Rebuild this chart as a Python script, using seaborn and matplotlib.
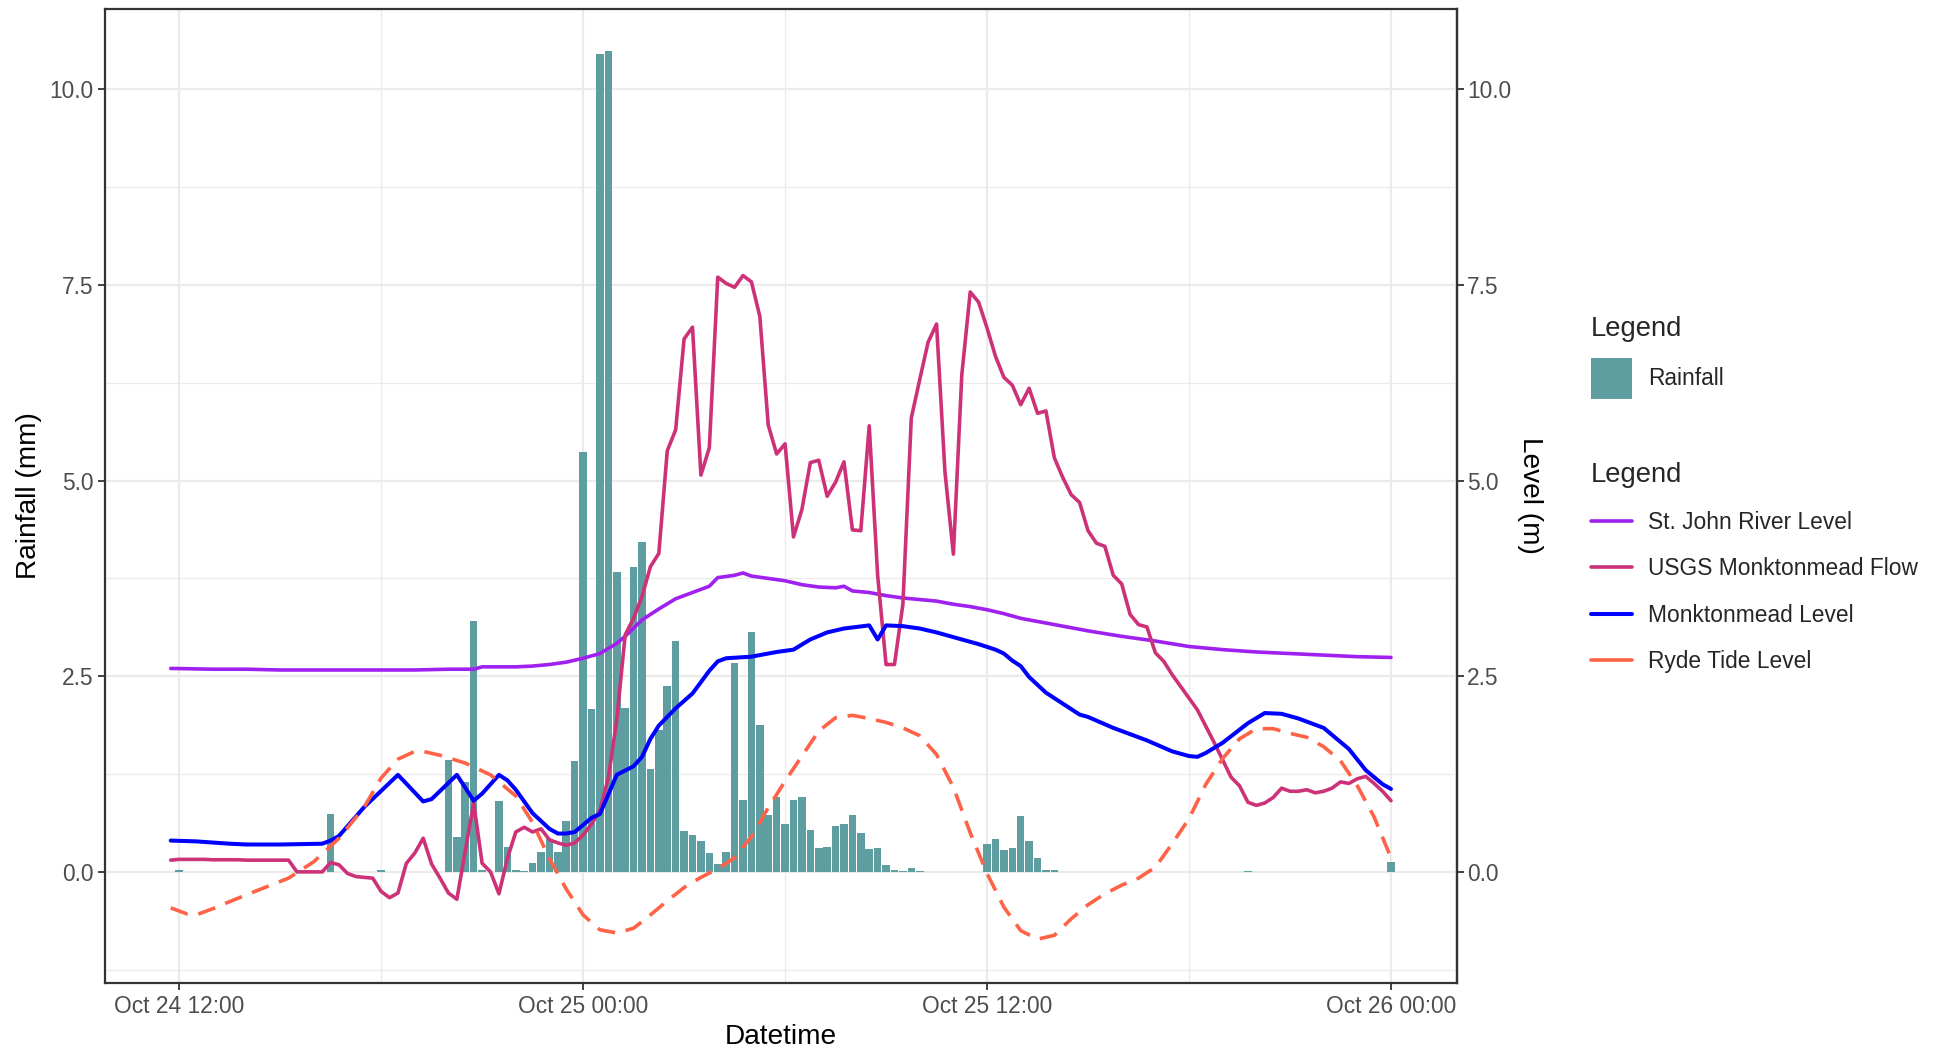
import numpy as np
import pandas as pd
import matplotlib
matplotlib.use("Agg")
import matplotlib.pyplot as plt
import seaborn as sns
from matplotlib.lines import Line2D
from matplotlib.patches import Patch
from matplotlib.ticker import FixedLocator, FuncFormatter

sns.set_style("white")
plt.rcParams["font.family"] = ["Liberation Sans", "DejaVu Sans"]

# Time axis: hours after Oct 24 12:00
START = pd.Timestamp("2023-10-24 12:00")
x_tick_hours = [0, 12, 24, 36]
x_minor_hours = [6, 18, 30]
y_ticks = [0.0, 2.5, 5.0, 7.5, 10.0]
y_minor = [-1.25, 1.25, 3.75, 6.25, 8.75]

# 15-minute rainfall totals (mm); intervals not listed had no rain
rain_hours = [0.0, 4.5, 6.0, 8.0, 8.25, 8.5, 8.75, 9.0, 9.5, 9.75, 10.0, 10.25, 10.5,
              10.75, 11.0, 11.25, 11.5, 11.75, 12.0, 12.25, 12.5, 12.75, 13.0, 13.25,
              13.5, 13.75, 14.0, 14.25, 14.5, 14.75, 15.0, 15.25, 15.5, 15.75, 16.0,
              16.25, 16.5, 16.75, 17.0, 17.25, 17.5, 17.75, 18.0, 18.25, 18.5, 18.75,
              19.0, 19.25, 19.5, 19.75, 20.0, 20.25, 20.5, 20.75, 21.0, 21.25, 21.5,
              21.75, 22.0, 24.0, 24.25, 24.5, 24.75, 25.0, 25.25, 25.5, 25.75, 26.0,
              31.75, 36.0]
rain_mm = [0.02, 0.74, 0.02, 1.43, 0.44, 1.15, 3.21, 0.03, 0.90, 0.32, 0.02, 0.01, 0.11,
           0.26, 0.42, 0.26, 0.65, 1.42, 5.36, 2.08, 10.45, 10.49, 3.83, 2.10,
           3.90, 4.22, 1.32, 1.81, 2.38, 2.95, 0.52, 0.47, 0.39, 0.24, 0.10,
           0.25, 2.67, 0.92, 3.07, 1.88, 0.73, 0.96, 0.61, 0.92, 0.96, 0.54,
           0.31, 0.32, 0.58, 0.61, 0.73, 0.50, 0.29, 0.31, 0.09, 0.03, 0.01,
           0.05, 0.01, 0.35, 0.42, 0.28, 0.30, 0.72, 0.40, 0.18, 0.02, 0.02,
           0.01, 0.12]

# St. John River level (m)
river_hours = [-0.25, 1, 2, 3, 4, 5, 6, 7, 8, 8.75, 9, 10, 10.5, 11, 11.5, 12, 12.5, 13,
               13.25, 13.75, 14.25, 14.75, 15.25, 15.75, 16, 16.5, 16.75, 17, 17.5, 18,
               18.5, 19, 19.5, 19.75, 20, 20.5, 21, 21.5, 22, 22.5, 23, 23.5, 24, 24.5,
               25, 25.5, 26, 27, 28, 29, 30, 31, 32, 33, 34, 35, 36]
river_level = [2.60, 2.59, 2.59, 2.58, 2.58, 2.58, 2.58, 2.58, 2.59, 2.59, 2.62, 2.62,
               2.63, 2.65, 2.68, 2.73, 2.79, 2.92, 3.01, 3.22, 3.36, 3.49, 3.57, 3.65,
               3.76, 3.79, 3.82, 3.78, 3.75, 3.72, 3.67, 3.64, 3.63, 3.65, 3.59, 3.57,
               3.53, 3.50, 3.48, 3.46, 3.42, 3.39, 3.35, 3.30, 3.24, 3.20, 3.16, 3.08,
               3.01, 2.95, 2.88, 2.84, 2.81, 2.79, 2.77, 2.75, 2.74]

# USGS Monktonmead flow, 15-minute readings
flow_hours = list(np.arange(-0.25, 36.01, 0.25))
flow_value = [0.15, 0.16, 0.16, 0.16, 0.16, 0.155, 0.155, 0.155, 0.155, 0.15, 0.15, 0.15,
              0.15, 0.15, 0.15, 0.0, 0.0, 0.0, 0.0, 0.12, 0.09, -0.02, -0.06, -0.07,
              -0.08, -0.25, -0.33, -0.27, 0.11, 0.24, 0.43, 0.10, -0.08, -0.27, -0.35,
              0.27, 0.88, 0.11, 0.0, -0.28, 0.17, 0.51, 0.57, 0.51, 0.55, 0.41, 0.37,
              0.34, 0.37, 0.47, 0.61, 0.79, 1.20, 1.94, 3.03, 3.24, 3.52, 3.90, 4.07,
              5.38, 5.65, 6.81, 6.96, 5.07, 5.42, 7.60, 7.52, 7.47, 7.62, 7.54, 7.10,
              5.71, 5.34, 5.47, 4.28, 4.63, 5.23, 5.26, 4.80, 4.98, 5.24, 4.37, 4.36,
              5.70, 3.79, 2.65, 2.65, 3.42, 5.80, 6.29, 6.77, 7.00, 5.11, 4.06, 6.35,
              7.41, 7.28, 6.95, 6.59, 6.32, 6.22, 5.97, 6.18, 5.86, 5.89, 5.29, 5.04,
              4.82, 4.72, 4.36, 4.20, 4.16, 3.79, 3.68, 3.29, 3.16, 3.13, 2.80, 2.69,
              2.52, 2.37, 2.22, 2.07, 1.86, 1.65, 1.43, 1.21, 1.10, 0.89, 0.85, 0.88,
              0.95, 1.07, 1.03, 1.03, 1.05, 1.01, 1.03, 1.07, 1.15, 1.13, 1.19, 1.22,
              1.13, 1.03, 0.91]

# Monktonmead level (m)
monk_hours = [-0.25, 0.5, 1.5, 2.0, 3.0, 4.25, 4.5, 4.75, 5.5, 6.5, 7.25, 7.5, 8.25,
              8.75, 9.0, 9.5, 9.75, 10.0, 10.5, 11.0, 11.25, 11.5, 11.75, 12.0, 12.25,
              12.5, 13.0, 13.5, 13.75, 14.0, 14.25, 14.75, 15.25, 15.75, 16.0, 16.25,
              17.0, 17.75, 18.25, 18.75, 19.25, 19.75, 20.5, 20.75, 21.0, 21.5, 22.0,
              22.5, 23.0, 23.75, 24.25, 24.5, 24.75, 25.0, 25.25, 25.75, 26.25, 26.75,
              27.0, 27.75, 28.75, 29.5, 30.0, 30.25, 30.5, 31.0, 31.75, 32.25, 32.75,
              33.25, 34.0, 34.75, 35.25, 35.75, 36.0]
monk_level = [0.40, 0.39, 0.36, 0.35, 0.35, 0.36, 0.40, 0.46, 0.83, 1.24, 0.90, 0.93,
              1.24, 0.91, 1.00, 1.24, 1.17, 1.05, 0.75, 0.55, 0.49, 0.49, 0.51, 0.60,
              0.69, 0.74, 1.24, 1.35, 1.47, 1.70, 1.87, 2.09, 2.28, 2.57, 2.69, 2.73,
              2.75, 2.81, 2.84, 2.97, 3.06, 3.11, 3.15, 2.97, 3.15, 3.14, 3.11, 3.06,
              3.00, 2.91, 2.84, 2.79, 2.70, 2.63, 2.49, 2.29, 2.15, 2.01, 1.98, 1.84,
              1.68, 1.54, 1.48, 1.47, 1.52, 1.65, 1.90, 2.03, 2.02, 1.96, 1.84, 1.57,
              1.30, 1.12, 1.06]

# Ryde tide level (m)
tide_hours = [-0.25, 0.25, 0.5, 1.0, 1.5, 2.25, 3.25, 4.0, 4.75, 5.5, 6.0, 6.5, 7.0,
              7.25, 7.75, 8.5, 9.25, 10.0, 10.5, 11.0, 11.5, 12.0, 12.5, 13.0, 13.5,
              14.0, 14.5, 15.0, 15.5, 16.0, 16.5, 17.0, 17.5, 18.0, 18.5, 19.0, 19.5,
              20.0, 20.5, 21.0, 21.5, 22.0, 22.5, 23.0, 23.5, 24.0, 24.5, 25.0, 25.5,
              26.0, 26.5, 27.0, 27.5, 28.0, 28.5, 29.0, 29.5, 30.0, 30.5, 31.0, 31.5,
              32.0, 32.5, 33.0, 33.5, 34.0, 34.5, 35.0, 35.5, 36.0]
tide_level = [-0.46, -0.54, -0.55, -0.47, -0.38, -0.25, -0.08, 0.13, 0.43, 0.83, 1.20,
              1.44, 1.54, 1.54, 1.49, 1.39, 1.24, 0.97, 0.63, 0.17, -0.22, -0.55, -0.74,
              -0.78, -0.72, -0.55, -0.37, -0.20, -0.07, 0.04, 0.18, 0.45, 0.82, 1.16,
              1.48, 1.80, 1.97, 2.00, 1.96, 1.91, 1.84, 1.74, 1.50, 1.08, 0.50, -0.02,
              -0.45, -0.75, -0.86, -0.81, -0.60, -0.42, -0.28, -0.17, -0.08, 0.06, 0.36,
              0.68, 1.12, 1.45, 1.70, 1.83, 1.83, 1.77, 1.72, 1.60, 1.42, 1.10, 0.70,
              0.18]

RAIN_COLOR = "#5F9EA0"
RIVER_COLOR = "#A020F0"
FLOW_COLOR = "#CD3278"
MONK_COLOR = "#0000FF"
TIDE_COLOR = "#FF6347"
GRID = "#EBEBEB"
INK = "#333333"
TICK_TEXT = "#4D4D4D"

fig = plt.figure(figsize=(19.39, 10.5), dpi=100)
ax = fig.add_axes([0.0542, 0.0638, 0.6972, 0.9279])

sns.histplot(x=rain_hours, weights=rain_mm, binwidth=0.25, binrange=(-0.125, 36.125),
             shrink=0.9, color=RAIN_COLOR, alpha=1, linewidth=0, edgecolor="none",
             ax=ax, zorder=2)

LW = 2.6
sns.lineplot(x=river_hours, y=river_level, color=RIVER_COLOR, linewidth=LW, ax=ax,
             errorbar=None, zorder=3)
sns.lineplot(x=flow_hours, y=flow_value, color=FLOW_COLOR, linewidth=LW, ax=ax,
             errorbar=None, zorder=4)
sns.lineplot(x=monk_hours, y=monk_level, color=MONK_COLOR, linewidth=2.9, ax=ax,
             errorbar=None, zorder=5)
sns.lineplot(x=tide_hours, y=tide_level, color=TIDE_COLOR, linewidth=LW, ax=ax,
             errorbar=None, zorder=6, linestyle=(0, (5, 3)))

ax.set_xlim(-2.2, 37.96)
ax.set_ylim(-1.42, 11.03)

def fmt_time(h, _pos=None):
    return (START + pd.Timedelta(hours=float(h))).strftime("%b %d %H:%M")

ax.xaxis.set_major_locator(FixedLocator(x_tick_hours))
ax.xaxis.set_major_formatter(FuncFormatter(fmt_time))
ax.xaxis.set_minor_locator(FixedLocator(x_minor_hours))
ax.yaxis.set_major_locator(FixedLocator(y_ticks))
ax.yaxis.set_major_formatter(FuncFormatter(lambda v, p: f"{v:.1f}"))
ax.yaxis.set_minor_locator(FixedLocator(y_minor))

ax.set_axisbelow(True)
ax.grid(which="major", color=GRID, linewidth=1.6)
ax.grid(which="minor", color=GRID, linewidth=0.9)
for s in ax.spines.values():
    s.set_color(INK)
    s.set_linewidth(1.6)

ax.tick_params(which="major", direction="out", length=5.1, width=1.3, color=INK,
               labelsize=16.4, labelcolor=TICK_TEXT, pad=3.5)
ax.tick_params(which="minor", length=0)
ax.tick_params(axis="x", bottom=True)
ax.tick_params(axis="y", left=True)

ax.set_xlabel("Datetime", fontsize=20.2, color="black", labelpad=4)
ax.set_ylabel("Rainfall (mm)", fontsize=20.2, color="black", labelpad=5.3)

sec = ax.secondary_yaxis("right")
sec.yaxis.set_major_locator(FixedLocator(y_ticks))
sec.yaxis.set_major_formatter(FuncFormatter(lambda v, p: f"{v:.1f}"))
sec.yaxis.set_minor_locator(FixedLocator([]))
sec.tick_params(direction="out", length=5.1, width=1.3, color=INK, labelsize=16.4,
                labelcolor=TICK_TEXT, pad=2)
sec.spines["right"].set_color(INK)
sec.spines["right"].set_linewidth(1.6)
sec.set_ylabel("Level (m)", fontsize=20.2, rotation=270, labelpad=23.3, color="black")

# Legends
rain_handles = [Patch(facecolor=RAIN_COLOR, edgecolor="none")]
leg1 = fig.legend(rain_handles, ["Rainfall"], title="Legend", loc="upper left",
                  bbox_to_anchor=(0.8205, 0.699), frameon=False, fontsize=16.4,
                  title_fontsize=19.7, alignment="left", handlelength=1.8,
                  handleheight=2.4, handletextpad=0.7, labelspacing=0.69,
                  borderpad=0, borderaxespad=0)

line_handles = [Line2D([], [], color=RIVER_COLOR, linewidth=LW),
                Line2D([], [], color=FLOW_COLOR, linewidth=LW),
                Line2D([], [], color=MONK_COLOR, linewidth=2.9),
                Line2D([], [], color=TIDE_COLOR, linewidth=LW)]
line_labels = ["St. John River Level", "USGS Monktonmead Flow", "Monktonmead Level",
               "Ryde Tide Level"]
leg2 = fig.legend(line_handles, line_labels, title="Legend", loc="upper left",
                  bbox_to_anchor=(0.8205, 0.560), frameon=False, fontsize=16.4,
                  title_fontsize=19.7, alignment="left", handlelength=1.8,
                  handletextpad=0.7, labelspacing=1.02, borderpad=0, borderaxespad=0)

fig.savefig("out.png", dpi=100, facecolor="white")
